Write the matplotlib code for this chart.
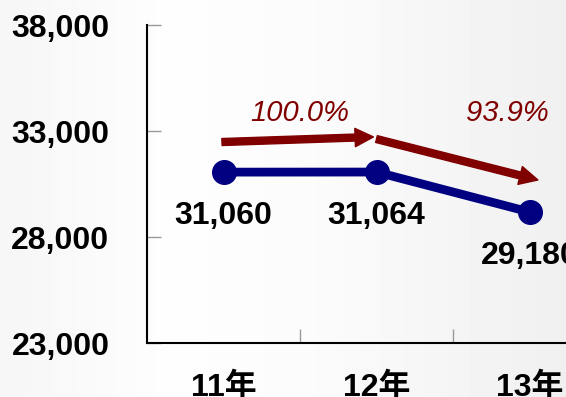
import numpy as np
import matplotlib
matplotlib.use('Agg')
import matplotlib.pyplot as plt
from matplotlib.ticker import FuncFormatter, FixedLocator

years = ['11年', '12年', '13年']
values = [31060, 31064, 29180]
ratios = ['100.0%', '93.9%']

plt.rcParams['font.family'] = ['Liberation Sans', 'Noto Sans CJK JP']

fig = plt.figure(figsize=(5.66, 3.97), dpi=100)

# soft horizontal background gradient
bg = fig.add_axes([0, 0, 1, 1], zorder=-10)
gx = np.array([0.0, 0.12, 0.30, 0.55, 0.80, 1.0])
gv = np.array([0.965, 0.975, 0.995, 0.985, 0.960, 0.940])
grad = np.interp(np.linspace(0, 1, 566), gx, gv)
bg.imshow(grad[np.newaxis, :], aspect='auto', cmap='gray', vmin=0, vmax=1,
          extent=[0, 1, 0, 1])
bg.set_axis_off()

# axes runs off the right edge, the third category gets clipped
ax = fig.add_axes([147 / 566, (397 - 343) / 397, 459 / 566, 318 / 397])
ax.patch.set_alpha(0)

x = np.arange(len(years))
ax.plot(x, values, color='#000080', lw=6.3, marker='o', ms=17,
        solid_capstyle='round', clip_on=False, zorder=3)

ax.set_xlim(-0.5, len(years) - 0.5)
ax.set_ylim(23000, 38000)
ax.yaxis.set_major_locator(FixedLocator([23000, 28000, 33000, 38000]))
ax.yaxis.set_major_formatter(FuncFormatter(lambda v, p: f'{int(v):,}'))
ax.set_xticks(x)
ax.set_xticklabels(years)
ax.set_xticks([0.5, 1.5], minor=True)

ax.tick_params(axis='y', direction='in', length=10, width=1, color='#999999',
               labelsize=23, pad=27)
ax.tick_params(axis='x', which='major', length=0, labelsize=23, pad=21)
ax.tick_params(axis='x', which='minor', direction='in', length=10,
               width=1, color='#999999')
for lab in ax.get_xticklabels() + ax.get_yticklabels():
    lab.set_fontweight('bold')

for s in ['top', 'right']:
    ax.spines[s].set_visible(False)
for s in ['left', 'bottom']:
    ax.spines[s].set_linewidth(1.5)
    ax.spines[s].set_color('black')

# value labels under each point
for xi, v in zip(x, values):
    ax.annotate(f'{v:,}', (xi, v), xytext=(0, -44), textcoords='offset pixels',
                ha='center', va='center', fontsize=23, fontweight='bold',
                annotation_clip=False)

# growth arrows between years
arrow_kw = dict(arrowstyle='simple,head_width=1.1,head_length=1.1,tail_width=0.42',
                color='#800000', mutation_scale=12, shrinkA=0, shrinkB=0)
ax.annotate('', xy=(0.98, 32720), xytext=(-0.01, 32480),
            arrowprops=arrow_kw)
ax.annotate('', xy=(2.055, 30690), xytext=(1.0, 32620),
            arrowprops=arrow_kw, annotation_clip=False)
ax.text(0.5, 33850, ratios[0], ha='center', va='center', fontsize=21,
        style='italic', color='#800000')
ax.text(1.855, 33850, ratios[1], ha='center', va='center', fontsize=21,
        style='italic', color='#800000')

fig.savefig('out.png', dpi=100)
